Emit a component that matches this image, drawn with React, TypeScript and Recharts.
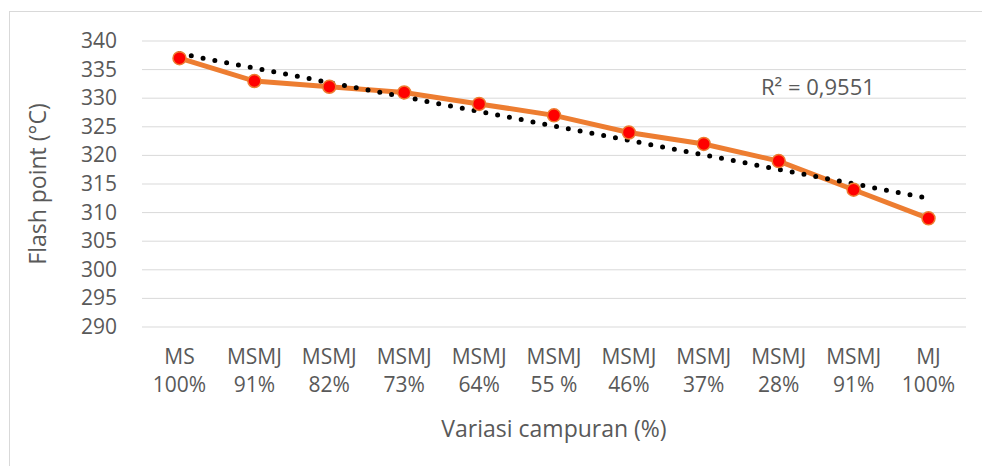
import { LineChart, Line, XAxis, YAxis, CartesianGrid, Label } from 'recharts';

const groups = ['MS', 'MSMJ', 'MSMJ', 'MSMJ', 'MSMJ', 'MSMJ', 'MSMJ', 'MSMJ', 'MSMJ', 'MSMJ', 'MJ'];
const mixes = ['100%', '91%', '82%', '73%', '64%', '55 %', '46%', '37%', '28%', '91%', '100%'];
const flashPoint = [337, 333, 332, 331, 329, 327, 324, 322, 319, 314, 309];
// linear trendline, only its two ends
const trendEnds = [337.8, 312.5];
const yTicks = [290, 295, 300, 305, 310, 315, 320, 325, 330, 335, 340];

const FONT = '"Open Sans", sans-serif';
const TEXT = '#595959';

const data = flashPoint.map((v, i) => ({
  name: groups[i] + '|' + mixes[i],
  flash: v,
  trend: i === 0 ? trendEnds[0] : i === flashPoint.length - 1 ? trendEnds[1] : null,
}));

function XTick({ x, y, payload }: any) {
  const [a, b] = String(payload.value).split('|');
  return (
    <text x={x} y={y} textAnchor="middle" fill={TEXT} fontSize={21} fontFamily={FONT}>
      <tspan x={x} dy={29}>{a}</tspan>
      <tspan x={x} dy={28}>{b}</tspan>
    </text>
  );
}

function YTick({ x, y, payload }: any) {
  return (
    <text x={x - 17} y={y} dy={7} textAnchor="end" fill={TEXT} fontSize={21} fontFamily={FONT}>
      {payload.value}
    </text>
  );
}

export default function App() {
  return (
    <div style={{ position: 'absolute', left: 9, top: 11, width: 973, height: 455, borderLeft: '1px solid #d9d9d9', borderTop: '1px solid #d9d9d9' }}>
      <LineChart width={972} height={455} data={data} margin={{ top: 29, right: 16, bottom: 20, left: 0 }}>
        <CartesianGrid vertical={false} stroke="#d9d9d9" strokeWidth={1} />
        <XAxis
          dataKey="name"
          axisLine={false}
          tickLine={false}
          interval={0}
          height={120}
          padding={{ left: 37.5, right: 37.5 }}
          tick={<XTick />}
        >
          <Label value="Variasi campuran (%)" position="insideTop" offset={94} fill={TEXT} fontSize={23} fontFamily={FONT} />
        </XAxis>
        <YAxis domain={[290, 340]} ticks={yTicks} axisLine={false} tickLine={false} width={132} tick={<YTick />}>
          <Label value="Flash point (°C)" angle={-90} position="insideLeft" offset={28} fill={TEXT} fontSize={23} fontFamily={FONT} style={{ textAnchor: 'middle' }} />
        </YAxis>
        <Line
          dataKey="flash"
          stroke="#ed7d31"
          strokeWidth={5}
          isAnimationActive={false}
          dot={{ r: 6.5, fill: '#ff0000', stroke: '#ed7d31', strokeWidth: 1.5 }}
          activeDot={false}
        />
        <Line
          dataKey="trend"
          connectNulls
          stroke="#000000"
          strokeWidth={5}
          strokeDasharray="0 12"
          strokeLinecap="round"
          dot={false}
          activeDot={false}
          isAnimationActive={false}
        />
      </LineChart>
      <div style={{ position: 'absolute', left: 751, top: 59, fontSize: 22, fontFamily: FONT, color: TEXT }}>
        R² = 0,9551
      </div>
    </div>
  );
}
